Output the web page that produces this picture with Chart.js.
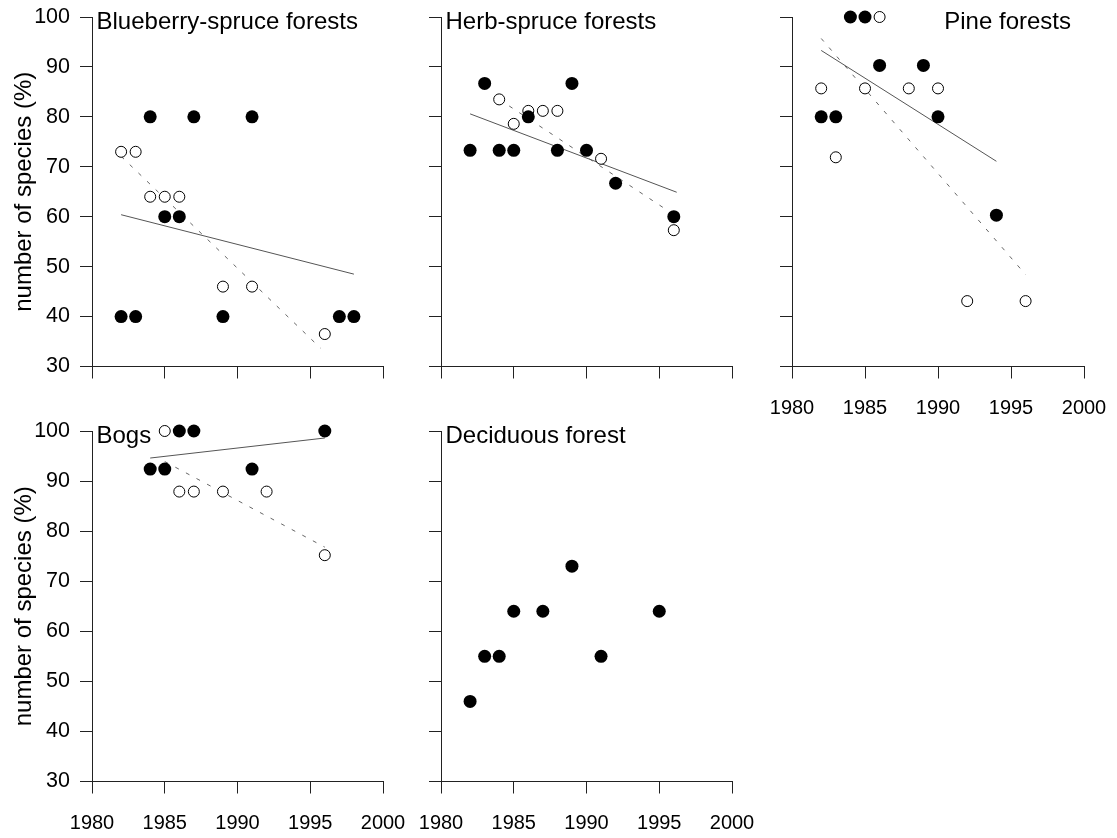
<!DOCTYPE html>
<html>
<head>
<meta charset="utf-8">
<script src="https://cdn.jsdelivr.net/npm/chart.js@4.4.0/dist/chart.umd.min.js"></script>
<style>
  body { margin: 0; background: #fff; }
  #wrap { position: relative; width: 1117px; height: 838px; overflow: hidden; }
  canvas { position: absolute; }
</style>
</head>
<body>
<div id="wrap">
  <canvas id="blueberry"></canvas>
  <canvas id="herb"></canvas>
  <canvas id="pine"></canvas>
  <canvas id="bogs"></canvas>
  <canvas id="deciduous"></canvas>
</div>
<script>
const yearTicks = [1980, 1985, 1990, 1995, 2000];
const percentTicks = [30, 40, 50, 60, 70, 80, 90, 100];
const yTitle = "number of species (%)";

// Blueberry-spruce forests
const blueberryFilledYears = [1982, 1983, 1984, 1985, 1986, 1987, 1989, 1991, 1997, 1998];
const blueberryFilledValues = [40, 40, 80, 60, 60, 80, 40, 80, 40, 40];
const blueberryOpenYears = [1982, 1983, 1984, 1985, 1986, 1989, 1991, 1996];
const blueberryOpenValues = [73, 73, 64, 64, 64, 46, 46, 36.5];
const blueberrySolidYears = [1982, 1998];
const blueberrySolidValues = [60.4, 48.5];
const blueberryDashedYears = [1982, 1995.7];
const blueberryDashedValues = [72.1, 33.7];

// Herb-spruce forests
const herbFilledYears = [1982, 1983, 1984, 1985, 1986, 1988, 1989, 1990, 1992, 1996];
const herbFilledValues = [73.3, 86.7, 73.3, 73.3, 80, 73.3, 86.7, 73.3, 66.7, 60];
const herbOpenYears = [1984, 1985, 1986, 1987, 1988, 1991, 1996];
const herbOpenValues = [83.5, 78.6, 81.2, 81.2, 81.2, 71.6, 57.3];
const herbSolidYears = [1982, 1996.2];
const herbSolidValues = [80.6, 64.9];
const herbDashedYears = [1984, 1995.6];
const herbDashedValues = [83.5, 61.2];

// Pine forests
const pineFilledYears = [1982, 1983, 1984, 1985, 1986, 1989, 1990, 1994];
const pineFilledValues = [80, 80, 100, 100, 90.3, 90.3, 80, 60.3];
const pineOpenYears = [1982, 1983, 1985, 1986, 1988, 1990, 1992, 1996];
const pineOpenValues = [85.7, 71.9, 85.7, 100, 85.7, 85.7, 43.1, 43.1];
const pineSolidYears = [1982, 1994];
const pineSolidValues = [93.3, 71.1];
const pineDashedYears = [1982, 1996];
const pineDashedValues = [95.7, 48.4];

// Bogs
const bogsFilledYears = [1984, 1985, 1986, 1987, 1991, 1996];
const bogsFilledValues = [92.4, 92.4, 100, 100, 92.4, 100];
const bogsOpenYears = [1985, 1986, 1987, 1989, 1992, 1996];
const bogsOpenValues = [100, 87.9, 87.9, 87.9, 87.9, 75.2];
const bogsSolidYears = [1984, 1996];
const bogsSolidValues = [94.6, 98.6];
const bogsDashedYears = [1985, 1996];
const bogsDashedValues = [93.9, 76.8];

// Deciduous forest
const deciduousFilledYears = [1982, 1983, 1984, 1985, 1987, 1989, 1991, 1995];
const deciduousFilledValues = [46, 55, 55, 64, 64, 73, 55, 64];

const fontFamily = '"Liberation Sans", Arial, Helvetica, sans-serif';

function pairs(xs, ys) {
  return xs.map((x, i) => ({ x: x, y: ys[i] }));
}

const panelLabel = {
  id: "panelLabel",
  afterDraw(chart, args, opts) {
    const { ctx, chartArea } = chart;
    ctx.save();
    ctx.font = "24px " + fontFamily;
    ctx.fillStyle = "#000";
    ctx.textBaseline = "alphabetic";
    if (opts.align === "right") {
      ctx.textAlign = "right";
      ctx.fillText(opts.text, chartArea.right - 13, chartArea.top + 12);
    } else {
      ctx.textAlign = "left";
      ctx.fillText(opts.text, chartArea.left + 4.5, chartArea.top + 12);
    }
    ctx.restore();
  },
};

function drawPanel(id, box, area, panel) {
  const canvas = document.getElementById(id);
  canvas.width = box.w;
  canvas.height = box.h;
  canvas.style.left = box.x + "px";
  canvas.style.top = box.y + "px";

  const datasets = [
    {
      data: pairs(panel.filled[0], panel.filled[1]),
      pointRadius: 6.5,
      pointBackgroundColor: "#000",
      pointBorderColor: "#000",
      pointBorderWidth: 0,
      clip: false,
    },
  ];
  if (panel.open) {
    datasets.push({
      data: pairs(panel.open[0], panel.open[1]),
      pointRadius: 5.5,
      pointBackgroundColor: "#fff",
      pointBorderColor: "#000",
      pointBorderWidth: 1,
      clip: false,
    });
  }
  if (panel.solid) {
    datasets.push({
      data: pairs(panel.solid[0], panel.solid[1]),
      showLine: true,
      pointRadius: 0,
      borderColor: "#555",
      borderWidth: 1,
      clip: false,
    });
    datasets.push({
      data: pairs(panel.dashed[0], panel.dashed[1]),
      showLine: true,
      pointRadius: 0,
      borderColor: "#666",
      borderWidth: 1,
      borderDash: [4, 8],
      clip: false,
    });
  }

  const xAxisH = box.y + box.h - area.bottom;
  const yAxisW = area.left - box.x;

  new Chart(canvas, {
    type: "scatter",
    data: { datasets: datasets },
    options: {
      responsive: false,
      animation: false,
      layout: {
        padding: { left: 0, bottom: 0, top: area.top - box.y, right: box.x + box.w - area.right },
      },
      plugins: {
        legend: { display: false },
        tooltip: { enabled: false },
        panelLabel: { text: panel.title, align: panel.titleAlign || "left" },
      },
      scales: {
        x: {
          type: "linear",
          min: 1980,
          max: 2000,
          afterBuildTicks: (s) => { s.ticks = yearTicks.map((v) => ({ value: v })); },
          afterFit: (s) => {
            s.height = xAxisH;
            s.paddingLeft = 0;
            s.paddingRight = 0;
          },
          grid: { drawOnChartArea: false, drawTicks: true, tickLength: 12, color: "#222" },
          border: { display: true, color: "#222", width: 1 },
          ticks: {
            display: panel.xLabels,
            autoSkip: false,
            maxRotation: 0,
            padding: 18,
            color: "#000",
            font: { family: fontFamily, size: 20 },
            callback: (v) => String(v),
          },
        },
        y: {
          type: "linear",
          min: 30,
          max: 100,
          afterBuildTicks: (s) => { s.ticks = percentTicks.map((v) => ({ value: v })); },
          afterFit: (s) => {
            s.width = yAxisW;
            s.paddingTop = 0;
            s.paddingBottom = 0;
          },
          grid: { drawOnChartArea: false, drawTicks: true, tickLength: 12, color: "#222" },
          border: { display: true, color: "#222", width: 1 },
          ticks: {
            display: panel.yLabels,
            autoSkip: false,
            padding: 10,
            color: "#000",
            font: { family: fontFamily, size: 21.5 },
            callback: (v) => String(v),
          },
          title: {
            display: panel.yLabels,
            text: yTitle,
            color: "#000",
            padding: { top: 10.3, bottom: 0 },
            font: { family: fontFamily, size: 24 },
          },
        },
      },
    },
    plugins: [panelLabel],
  });
}

drawPanel("blueberry", { x: 0, y: 0, w: 400, h: 400 }, { left: 92, top: 17, right: 383, bottom: 366.5 }, {
  title: "Blueberry-spruce forests",
  filled: [blueberryFilledYears, blueberryFilledValues],
  open: [blueberryOpenYears, blueberryOpenValues],
  solid: [blueberrySolidYears, blueberrySolidValues],
  dashed: [blueberryDashedYears, blueberryDashedValues],
  xLabels: false,
  yLabels: true,
});

drawPanel("herb", { x: 400, y: 0, w: 345, h: 400 }, { left: 441, top: 17, right: 732, bottom: 366.5 }, {
  title: "Herb-spruce forests",
  filled: [herbFilledYears, herbFilledValues],
  open: [herbOpenYears, herbOpenValues],
  solid: [herbSolidYears, herbSolidValues],
  dashed: [herbDashedYears, herbDashedValues],
  xLabels: false,
  yLabels: false,
});

drawPanel("pine", { x: 750, y: 0, w: 367, h: 440 }, { left: 792, top: 17, right: 1084, bottom: 366.5 }, {
  title: "Pine forests",
  titleAlign: "right",
  filled: [pineFilledYears, pineFilledValues],
  open: [pineOpenYears, pineOpenValues],
  solid: [pineSolidYears, pineSolidValues],
  dashed: [pineDashedYears, pineDashedValues],
  xLabels: true,
  yLabels: false,
});

drawPanel("bogs", { x: 0, y: 400, w: 420, h: 438 }, { left: 92, top: 431, right: 383, bottom: 781.5 }, {
  title: "Bogs",
  filled: [bogsFilledYears, bogsFilledValues],
  open: [bogsOpenYears, bogsOpenValues],
  solid: [bogsSolidYears, bogsSolidValues],
  dashed: [bogsDashedYears, bogsDashedValues],
  xLabels: true,
  yLabels: true,
});

drawPanel("deciduous", { x: 400, y: 400, w: 360, h: 438 }, { left: 441, top: 431, right: 732, bottom: 781.5 }, {
  title: "Deciduous forest",
  filled: [deciduousFilledYears, deciduousFilledValues],
  xLabels: true,
  yLabels: false,
});
</script>
</body>
</html>
